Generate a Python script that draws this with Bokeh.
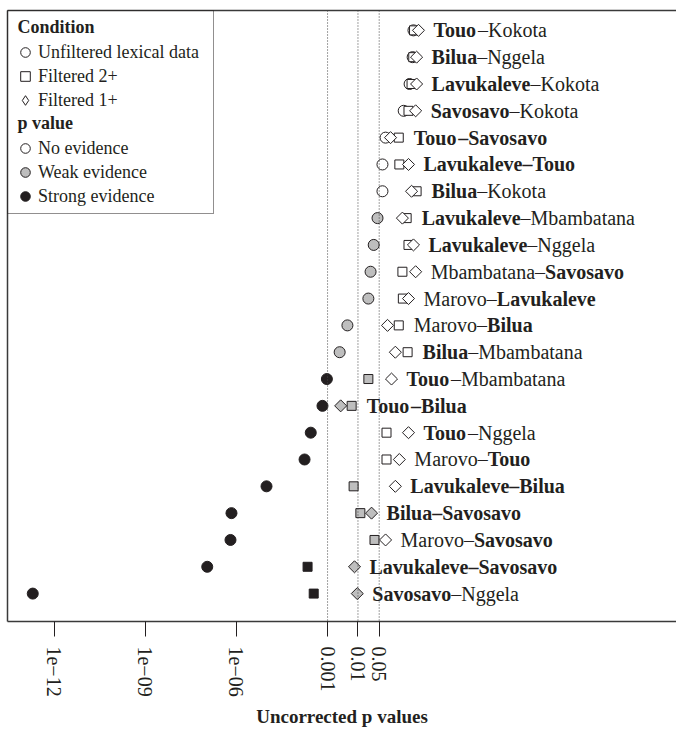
import glob
import math
import struct

from bokeh.core.properties import value
from bokeh.embed import file_html
from bokeh.models import (ColumnDataSource, FixedTicker, Label, Legend, LegendItem,
                          LogAxis, Range1d, Span)
from bokeh.plotting import figure
from bokeh.resources import INLINE

# ---- data: one row per language pair, top to bottom --------------------
lang_a = ["Touo", "Bilua", "Lavukaleve", "Savosavo", "Touo", "Lavukaleve", "Bilua",
          "Lavukaleve", "Lavukaleve", "Mbambatana", "Marovo", "Marovo", "Bilua", "Touo",
          "Touo", "Touo", "Marovo", "Lavukaleve", "Bilua", "Marovo", "Lavukaleve", "Savosavo"]
lang_b = ["Kokota", "Nggela", "Kokota", "Kokota", "Savosavo", "Touo", "Kokota",
          "Mbambatana", "Nggela", "Savosavo", "Lavukaleve", "Bilua", "Mbambatana", "Mbambatana",
          "Bilua", "Nggela", "Touo", "Bilua", "Savosavo", "Savosavo", "Savosavo", "Nggela"]
papuan = ["Touo", "Bilua", "Lavukaleve", "Savosavo"]

p_unfiltered = [0.67, 0.63, 0.50, 0.32, 0.081, 0.064, 0.064, 0.044, 0.033, 0.026, 0.022,
                0.0045, 0.0025, 0.00095, 0.00068, 0.00028, 0.000175, 9.8e-6, 6.9e-7,
                6.4e-7, 1.1e-7, 2.0e-13]
p_filtered_2 = [0.70, 0.66, 0.58, 0.46, 0.22, 0.23, 0.85, 0.40, 0.46, 0.29, 0.30,
                0.22, 0.43, 0.022, 0.0062, 0.087, 0.087, 0.0072, 0.012, 0.035,
                0.00022, 0.00035]
p_filtered_1 = [0.98, 0.85, 0.85, 0.79, 0.118, 0.46, 0.58, 0.29, 0.67, 0.79, 0.46,
                0.094, 0.17, 0.127, 0.0027, 0.46, 0.23, 0.17, 0.028, 0.081, 0.0077,
                0.0095]

tick_values = [1e-12, 1e-9, 1e-6, 1e-3, 1e-2, 0.05]
tick_labels = ["1e\u221212", "1e\u221209", "1e\u221206", "0.001", "0.01", "0.05"]
guide_values = [1e-3, 1e-2, 0.05]
strong_cut, weak_cut = 0.001, 0.05

# ---- styling / layout --------------------------------------------------
FONT = "Liberation Serif"
INK = "#231f20"
GREY = "#bebebe"
W, H = 676, 729
LEFT, TOP, BOTTOM = 7, 10, 104
FRAME_W, FRAME_H = W - LEFT, H - TOP - BOTTOM
LOG_MIN, LOG_MAX = -13.53, 8.48
Y_MIN, Y_MAX = -0.04, 22.74
LABEL_SIZE = 20
LABEL_GAP = 15
ROW_PX = 24          # legend row height
LEGEND_PAD = 5


def text_measurer(pattern):
    """Return f(text, px) giving the advance width of text in a TrueType font."""
    paths = glob.glob("/usr/share/fonts/**/" + pattern, recursive=True)
    if not paths:
        return lambda s, px: 0.5 * px * len(s)
    data = open(paths[0], "rb").read()
    ntab = struct.unpack(">H", data[4:6])[0]
    tabs = {}
    for i in range(ntab):
        tag, _, off, ln = struct.unpack(">4sIII", data[12 + 16 * i:28 + 16 * i])
        tabs[tag.decode("latin1")] = off
    upem = struct.unpack(">H", data[tabs["head"] + 18:tabs["head"] + 20])[0]
    nhm = struct.unpack(">H", data[tabs["hhea"] + 34:tabs["hhea"] + 36])[0]
    adv = [struct.unpack(">H", data[tabs["hmtx"] + 4 * i:tabs["hmtx"] + 4 * i + 2])[0]
           for i in range(nhm)]
    c = tabs["cmap"]
    nsub = struct.unpack(">H", data[c + 2:c + 4])[0]
    sub = None
    for i in range(nsub):
        pid, eid, so = struct.unpack(">HHI", data[c + 4 + 8 * i:c + 12 + 8 * i])
        if pid == 3 and eid == 1:
            sub = c + so
    seg2 = struct.unpack(">H", data[sub + 6:sub + 8])[0]
    seg = seg2 // 2
    ends = struct.unpack(">%dH" % seg, data[sub + 14:sub + 14 + seg2])
    starts = struct.unpack(">%dH" % seg, data[sub + 16 + seg2:sub + 16 + 2 * seg2])
    deltas = struct.unpack(">%dh" % seg, data[sub + 16 + 2 * seg2:sub + 16 + 3 * seg2])
    ro = sub + 16 + 3 * seg2
    ranges = struct.unpack(">%dH" % seg, data[ro:ro + seg2])

    def glyph(code):
        for i in range(seg):
            if ends[i] >= code:
                if starts[i] > code:
                    return 0
                if ranges[i] == 0:
                    return (code + deltas[i]) & 0xFFFF
                addr = ro + 2 * i + ranges[i] + 2 * (code - starts[i])
                g = struct.unpack(">H", data[addr:addr + 2])[0]
                return (g + deltas[i]) & 0xFFFF if g else 0
        return 0

    def width(s, px):
        return sum(adv[min(glyph(ord(ch)), nhm - 1)] for ch in s) * px / upem

    return width


width_regular = text_measurer("LiberationSerif-Regular.ttf")
width_bold = text_measurer("LiberationSerif-Bold.ttf")


def evidence_fill(pv):
    if pv < strong_cut:
        return INK
    if pv < weak_cut:
        return GREY
    return "white"


n = len(lang_a)
rows = list(range(n, 0, -1))

p = figure(width=W, height=H, x_axis_type="log",
           x_range=Range1d(10 ** LOG_MIN, 10 ** LOG_MAX), y_range=Range1d(Y_MIN, Y_MAX),
           output_backend="svg", toolbar_location=None,
           min_border_left=LEFT, min_border_right=0, min_border_top=TOP,
           min_border_bottom=BOTTOM)
p.outline_line_color = None
p.grid.visible = False
p.background_fill_color = "white"
p.border_fill_color = "white"

# frame: left, top and bottom edges only
yax = p.yaxis[0]
yax.ticker = FixedTicker(ticks=[])
yax.major_label_text_font_size = "0px"
yax.major_tick_out = yax.major_tick_in = yax.minor_tick_out = yax.minor_tick_in = 0
yax.major_label_standoff = 0
yax.axis_line_color = "#3a3a3a"
yax.axis_line_width = 1.5

top_axis = LogAxis(ticker=FixedTicker(ticks=[]), major_label_text_font_size="0px",
                   major_tick_out=0, major_tick_in=0, minor_tick_out=0, minor_tick_in=0,
                   major_label_standoff=0, axis_line_color="#3a3a3a", axis_line_width=1.5)
p.add_layout(top_axis, "above")

xax = p.below[0]
xax.ticker = FixedTicker(ticks=tick_values)
xax.major_label_overrides = dict(zip(tick_values, tick_labels))
xax.major_label_orientation = "vertical"
xax.major_label_text_font = FONT
xax.major_label_text_font_size = "20px"
xax.major_label_text_color = INK
xax.major_label_standoff = 10
xax.major_tick_out = 15
xax.major_tick_in = 0
xax.minor_tick_out = xax.minor_tick_in = 0
xax.major_tick_line_color = INK
xax.axis_line_color = "#3a3a3a"
xax.axis_line_width = 1.5
xax.axis_label = "Uncorrected p values"
xax.axis_label_text_font = FONT
xax.axis_label_text_font_style = "bold"
xax.axis_label_text_font_size = "19px"
xax.axis_label_text_color = INK
xax.axis_label_standoff = 6

for gv in guide_values:
    p.add_layout(Span(location=gv, dimension="height", line_color="#444444",
                      line_width=1, line_dash="1 2"))

# markers: unfiltered (circle), filtered 2+ (square), filtered 1+ (diamond)
conditions = [
    (p_unfiltered, dict(marker="circle", size=11, angle=0)),
    (p_filtered_2, dict(marker="square", size=9, angle=0)),
    (p_filtered_1, dict(marker="square", size=8.5, angle=math.pi / 4)),
]
for pvals, style in conditions:
    src = ColumnDataSource(dict(x=pvals, y=rows, fill=[evidence_fill(v) for v in pvals]))
    p.scatter("x", "y", source=src, fill_color="fill", line_color=INK, line_width=1,
              **style)

# pair labels, Papuan languages in bold
pmax = [max(a, b, c) for a, b, c in zip(p_unfiltered, p_filtered_2, p_filtered_1)]
a_style = ["bold" if s in papuan else "normal" for s in lang_a]
b_style = ["bold" if s in papuan else "normal" for s in lang_b]
dash_style = ["bold" if sa == "bold" and sb == "bold" else "normal"
              for sa, sb in zip(a_style, b_style)]


def measure(s, style):
    return (width_bold if style == "bold" else width_regular)(s, LABEL_SIZE)


a_off = [LABEL_GAP] * n
dash_off = [LABEL_GAP + measure(s, st) for s, st in zip(lang_a, a_style)]
b_off = [d + measure("\u2013", st) for d, st in zip(dash_off, dash_style)]
lab = ColumnDataSource(dict(x=pmax, y=rows, a=lang_a, b=lang_b, dash=["\u2013"] * n,
                            a_style=a_style, b_style=b_style, dash_style=dash_style,
                            a_off=a_off, b_off=b_off, dash_off=dash_off))
for col in ("a", "dash", "b"):
    p.text(x="x", y="y", text=col, source=lab, x_offset=col + "_off",
           text_font_style=col + "_style", text_font=value(FONT),
           text_font_size="%dpx" % LABEL_SIZE, text_baseline="middle",
           text_align="left", text_color=INK)

# legend: shapes for the condition, fills for the strength of evidence
nan = float("nan")
dummy = dict(x=[nan], y=[nan])


def legend_renderer(**kw):
    return p.scatter(x="x", y="y", source=ColumnDataSource(dummy), **kw)


blank = legend_renderer(marker="circle", size=1, fill_alpha=0, line_alpha=0)
items = [
    LegendItem(label=" ", renderers=[blank]),
    LegendItem(label="Unfiltered lexical data", renderers=[legend_renderer(
        marker="circle", fill_color="white", line_color=INK)]),
    LegendItem(label="Filtered 2+", renderers=[legend_renderer(
        marker="square", fill_color="white", line_color=INK)]),
    LegendItem(label="Filtered 1+", renderers=[legend_renderer(
        marker="diamond", fill_color="white", line_color=INK)]),
    LegendItem(label=" ", renderers=[blank]),
    LegendItem(label="No evidence", renderers=[legend_renderer(
        marker="circle", fill_color="white", line_color=INK)]),
    LegendItem(label="Weak evidence", renderers=[legend_renderer(
        marker="circle", fill_color=GREY, line_color=INK)]),
    LegendItem(label="Strong evidence", renderers=[legend_renderer(
        marker="circle", fill_color=INK, line_color=INK)]),
]
# transparent box so that the bold section headings beneath it stay visible
legend = Legend(items=items, location="top_left", margin=0, padding=LEGEND_PAD,
                spacing=0, glyph_width=ROW_PX, glyph_height=ROW_PX, label_height=ROW_PX,
                label_standoff=1, label_width=170,
                label_text_font=FONT, label_text_font_size="18px", label_text_color=INK,
                border_line_color=INK, border_line_width=1, background_fill_alpha=0)
p.add_layout(legend)


def data_x(px):
    return 10 ** (LOG_MIN + (px - LEFT) / FRAME_W * (LOG_MAX - LOG_MIN))


def data_y(py):
    return Y_MAX - (py - TOP) / FRAME_H * (Y_MAX - Y_MIN)


for title, row in (("Condition", 0), ("p value", 4)):
    p.add_layout(Label(x=data_x(LEFT + 10),
                       y=data_y(TOP + LEGEND_PAD + ROW_PX * row + ROW_PX / 2),
                       text=title, text_font=FONT, text_font_style="bold",
                       text_font_size="18px", text_color=INK, text_baseline="middle"))

open("out.html", "w").write(file_html(p, INLINE))
